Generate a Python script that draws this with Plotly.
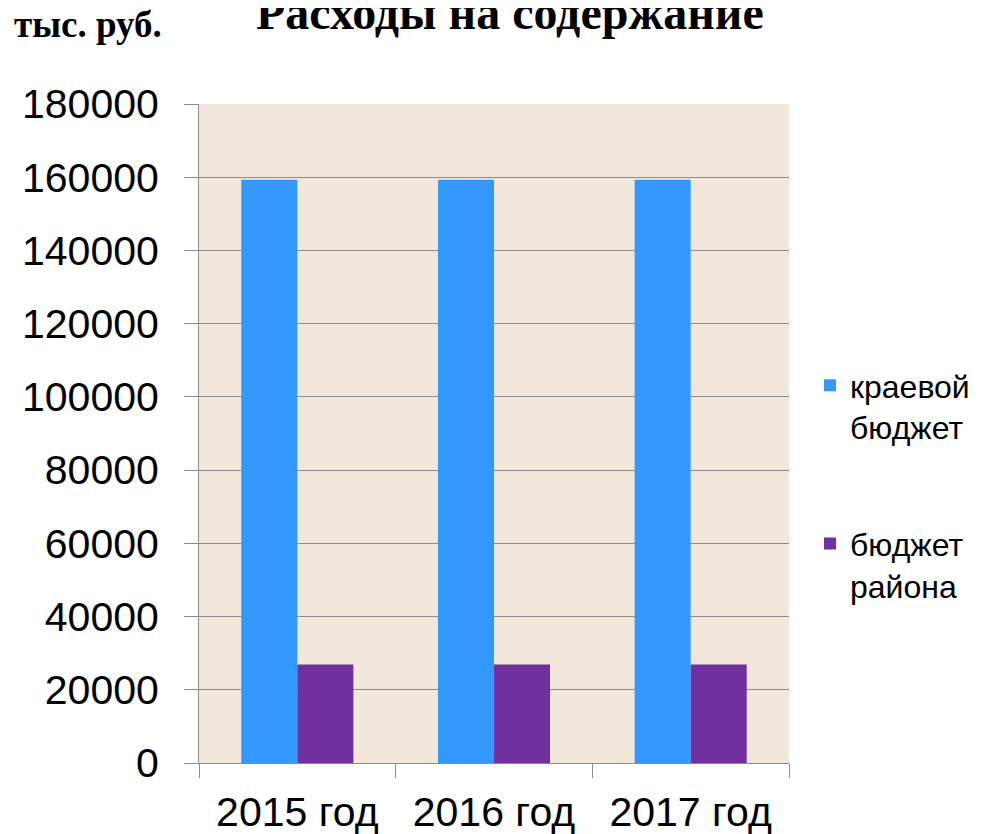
import plotly.graph_objects as go

categories = ["2015 год", "2016 год", "2017 год"]
kraevoy = [159300, 159300, 159300]
rayon = [26900, 26900, 26900]
series_names = ["краевой<br>бюджет", "бюджет<br>района"]
y_ticks = [0, 20000, 40000, 60000, 80000, 100000, 120000, 140000, 160000, 180000]

fig = go.Figure()
fig.add_trace(go.Bar(x=categories, y=kraevoy, name=series_names[0],
                     marker=dict(color="#3399FF", line=dict(width=0)),
                     legendgroup="a"))
fig.add_trace(go.Bar(x=categories, y=rayon, name=series_names[1],
                     marker=dict(color="#7030A0", line=dict(width=0)),
                     legendgroup="b"))

# page has an 8px body margin; figure coordinates = page - 8
L, R, T, B = 191, 781, 96, 755
PW, PH = R - L, B - T


def px(x):
    return (x - L) / PW


def py(y):
    return (B - y) / PH


grid = "#8c8c8c"
fig.update_layout(
    width=992, height=834,
    margin=dict(l=L, r=992 - R, t=T, b=834 - B, autoexpand=False),
    paper_bgcolor="white",
    plot_bgcolor="#F2E7DB",
    barmode="group",
    bargap=0.43,
    bargroupgap=0,
    font=dict(family="Liberation Sans, Arial", color="black"),
    showlegend=True,
    legend=dict(x=px(802), xanchor="left", y=py(350), yanchor="top",
                font=dict(size=32, family="Liberation Sans, Arial"),
                valign="top", tracegroupgap=72, bgcolor="rgba(0,0,0,0)",
                traceorder="grouped"),
    xaxis=dict(showgrid=False, showline=True, linecolor=grid, linewidth=1,
               ticks="outside", tickson="boundaries", ticklen=14, tickcolor=grid,
               tickfont=dict(size=41), ticklabelstandoff=13, fixedrange=True),
    yaxis=dict(range=[0, 180000], tickvals=y_ticks, ticktext=[str(v) for v in y_ticks],
               showgrid=True, gridcolor=grid, gridwidth=1,
               showline=True, linecolor=grid, linewidth=1,
               ticks="outside", ticklen=14, tickcolor=grid,
               tickfont=dict(size=41), ticklabelstandoff=17, zeroline=False),
    annotations=[
        dict(text="<b>Расходы на содержание</b>", xref="paper", yref="paper",
             x=px(502), y=py(5), xanchor="center", yanchor="middle",
             showarrow=False, font=dict(family="Liberation Serif, Times New Roman", size=48)),
        dict(text="<b>тыс. руб.</b>", xref="paper", yref="paper",
             x=px(80), y=py(17), xanchor="center", yanchor="middle",
             showarrow=False, font=dict(family="Liberation Serif, Times New Roman", size=37)),
    ],
)

fig.write_html("out.html")
